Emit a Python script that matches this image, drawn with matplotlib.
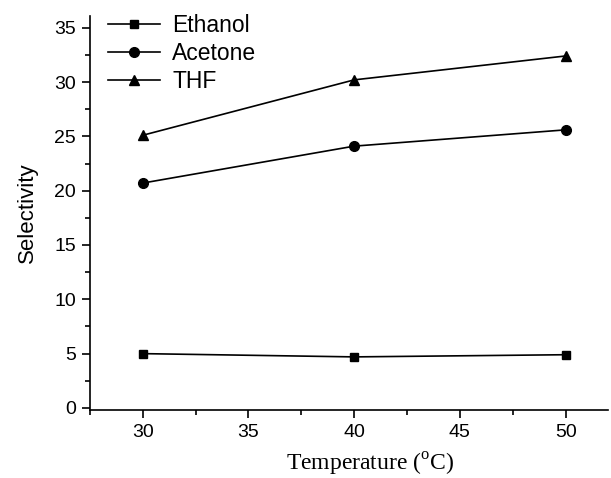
import numpy as np
import matplotlib
matplotlib.use("Agg")
import matplotlib.pyplot as plt
from matplotlib.ticker import MultipleLocator

temperature = [30, 40, 50]
ethanol = [5.0, 4.7, 4.9]
acetone = [20.7, 24.1, 25.6]
thf = [25.1, 30.2, 32.4]

plt.rcParams['font.family'] = ['Liberation Sans', 'DejaVu Sans']
plt.rcParams['mathtext.fontset'] = 'custom'
plt.rcParams['mathtext.rm'] = 'Liberation Serif'

fig = plt.figure(figsize=(6.11, 4.78), dpi=100)
ax = fig.add_axes([0.147, 0.142, 0.848, 0.825])

ax.plot(temperature, ethanol, color='black', lw=1.2, marker='s', ms=6, label='Ethanol')
ax.plot(temperature, acetone, color='black', lw=1.2, marker='o', ms=7, label='Acetone')
ax.plot(temperature, thf, color='black', lw=1.2, marker='^', ms=7, label='THF')

ax.set_xlim(27.5, 52.0)
ax.set_ylim(-0.2, 36.1)
ax.xaxis.set_major_locator(MultipleLocator(5))
ax.xaxis.set_minor_locator(MultipleLocator(2.5))
ax.yaxis.set_major_locator(MultipleLocator(5))
ax.yaxis.set_minor_locator(MultipleLocator(2.5))
ax.spines['top'].set_visible(False)
ax.spines['right'].set_visible(False)
for s in ['left', 'bottom']:
    ax.spines[s].set_linewidth(1.2)
ax.tick_params(which='major', direction='out', length=6, width=1.2, labelsize=14, pad=4)
ax.tick_params(which='minor', direction='out', length=3.5, width=1.2)

ax.set_ylabel('Selectivity', fontsize=16, labelpad=12)
ax.set_xlabel(r'Temperature ($^{\rm o}$C)', fontsize=17, family='Liberation Serif', va='center')
ax.xaxis.set_label_coords(0.542, -0.137)

ax.legend(loc='upper left', bbox_to_anchor=(0.005, 1.045), frameon=False, fontsize=16.5,
          handlelength=2.27, handletextpad=0.52, labelspacing=0.22, borderaxespad=0.3)

fig.savefig('out.png', dpi=100)
